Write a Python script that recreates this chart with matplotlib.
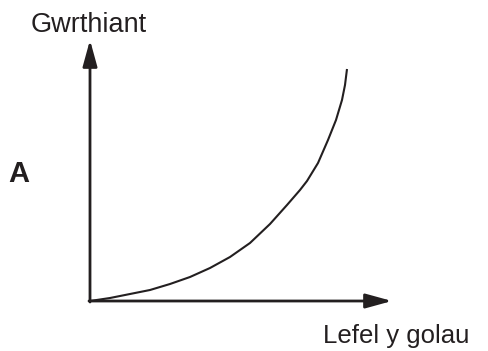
import matplotlib
matplotlib.use("Agg")
import matplotlib.pyplot as plt

# Curve (light level vs resistance, arbitrary units)
light_level = [0, 20, 40, 60, 80, 100, 120, 140, 160, 180, 197, 210, 217, 228, 238, 246, 252, 255, 257]
resistance = [0, 3, 7, 11, 17, 24, 33, 44, 58, 77, 96, 111, 120, 138, 161, 181, 201, 216, 232]

y_label = "Gwrthiant"
x_label = "Lefel y golau"
panel_label = "A"

W, H = 489, 351
fig = plt.figure(figsize=(W / 100, H / 100), dpi=100)
plt.rcParams['font.family'] = ['Liberation Sans', 'DejaVu Sans']

ox, oy = 90, 301          # pixel position of origin
xmax, ymax = 300, 261
ax = fig.add_axes([ox / W, (H - oy) / H, xmax / W, ymax / H])
ax.set_xlim(0, xmax)
ax.set_ylim(0, ymax)
ax.axis('off')

col = '#231f20'
ax.plot(light_level, resistance, color=col, lw=1.5, solid_capstyle='butt',
        solid_joinstyle='round', clip_on=False)

arrow = dict(arrowstyle='-|>,head_length=0.8,head_width=0.22', mutation_scale=20,
             color=col, lw=2.0, shrinkA=0, shrinkB=0)
ax.annotate('', xy=(302, 0), xytext=(-1, 0), arrowprops=arrow, annotation_clip=False)
ax.annotate('', xy=(0, 261), xytext=(0, -1), arrowprops=arrow, annotation_clip=False)

fig.text(31 / W, 1 - 32 / H, y_label, fontsize=19.5, color=col, va='baseline', ha='left')
fig.text(323 / W, 1 - 343 / H, x_label, fontsize=18.5, color=col, va='baseline', ha='left')
fig.text(8 / W, 1 - 182 / H, panel_label, fontsize=21, fontweight='bold', color=col,
         va='baseline', ha='left')

fig.savefig("out.png", dpi=100)
